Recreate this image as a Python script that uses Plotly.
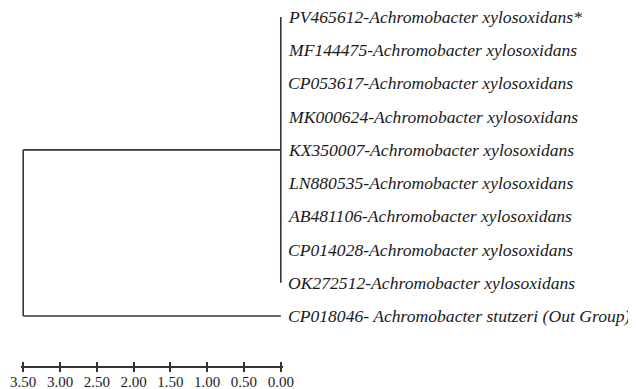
import plotly.graph_objects as go

# ---- data ----
leaf_labels = [
    "PV465612-Achromobacter xylosoxidans*",
    "MF144475-Achromobacter xylosoxidans",
    "CP053617-Achromobacter xylosoxidans",
    "MK000624-Achromobacter xylosoxidans",
    "KX350007-Achromobacter xylosoxidans",
    "LN880535-Achromobacter xylosoxidans",
    "AB481106-Achromobacter xylosoxidans",
    "CP014028-Achromobacter xylosoxidans",
    "OK272512-Achromobacter xylosoxidans",
    "CP018046- Achromobacter stutzeri (Out Group)",
]
leaf_heights = [0.0, 0.0, 0.0, 0.0, 0.0, 0.0, 0.0, 0.0, 0.0, 0.0]
clade_members = [0, 1, 2, 3, 4, 5, 6, 7, 8]
outgroup_member = 9
clade_height = 0.0
root_height = 3.5
scale_ticks = [3.5, 3.0, 2.5, 2.0, 1.5, 1.0, 0.5, 0.0]
scale_labels = ["3.50", "3.00", "2.50", "2.00", "1.50", "1.00", "0.50", "0.00"]

LINE = "#333333"
TEXT = "#1a1a1a"
FONT = "Liberation Serif"

fig = go.Figure()

# clade vertical
c_top, c_bot = min(clade_members), max(clade_members)
c_mid = (c_top + c_bot) / 2
fig.add_trace(go.Scatter(x=[clade_height, clade_height], y=[c_top, c_bot], mode="lines",
                         line=dict(color=LINE, width=1.6), hoverinfo="skip", showlegend=False))
# root -> clade horizontal
fig.add_trace(go.Scatter(x=[root_height, clade_height], y=[c_mid, c_mid], mode="lines",
                         line=dict(color=LINE, width=1.6), hoverinfo="skip", showlegend=False))
# root vertical
fig.add_trace(go.Scatter(x=[root_height, root_height], y=[c_mid, outgroup_member], mode="lines",
                         line=dict(color=LINE, width=1.6), hoverinfo="skip", showlegend=False))
# root -> outgroup horizontal
fig.add_trace(go.Scatter(x=[root_height, leaf_heights[outgroup_member]],
                         y=[outgroup_member, outgroup_member], mode="lines",
                         line=dict(color=LINE, width=1.6), hoverinfo="skip", showlegend=False))
# invisible trace for overlay axis
fig.add_trace(go.Scatter(x=[scale_ticks[0]], y=[c_mid], xaxis="x2", mode="markers",
                         marker=dict(opacity=0), hoverinfo="skip", showlegend=False))

for i, (lab, h) in enumerate(zip(leaf_labels, leaf_heights)):
    fig.add_annotation(x=h, y=i, xref="x", yref="y", text="<i>" + lab + "</i>",
                       showarrow=False, xanchor="left", yanchor="middle", xshift=5,
                       font=dict(family=FONT, size=17.6, color=TEXT))

pad = 0.03
fig.update_layout(
    width=628, height=381,
    margin=dict(l=13, r=353, t=5, b=23, pad=0, autoexpand=False),
    paper_bgcolor="white", plot_bgcolor="white",
    xaxis=dict(range=[root_height + pad, -pad], showgrid=False, zeroline=False,
               automargin=False,
               showline=True, linecolor=LINE, linewidth=2,
               tickvals=scale_ticks, ticktext=scale_labels,
               ticks="outside", ticklen=4, tickwidth=1.6, tickcolor=LINE,
               ticklabelstandoff=-3,
               tickfont=dict(family=FONT, size=15, color=TEXT)),
    xaxis2=dict(overlaying="x", matches="x", anchor="y", side="bottom",
                automargin=False,
                range=[root_height + pad, -pad], showgrid=False, zeroline=False,
                showline=False, tickvals=scale_ticks, showticklabels=False,
                ticks="inside", ticklen=4, tickwidth=1.6, tickcolor=LINE),
    yaxis=dict(range=[10.505, -0.12], visible=False, showgrid=False, zeroline=False,
               automargin=False),
)

fig.write_html("out.html")
